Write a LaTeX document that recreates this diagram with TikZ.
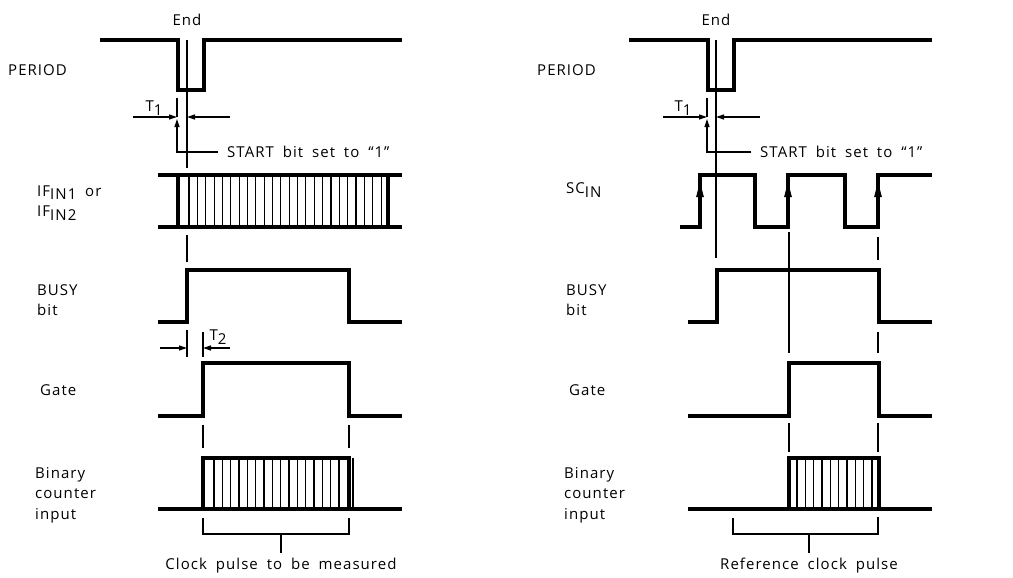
\documentclass[tikz,border=0pt]{standalone}
\usepackage{fontspec}
\setmainfont{Open Sans}[LetterSpace=7, WordSpace=1.8]
\usetikzlibrary{arrows.meta, positioning, calc}

\tikzset{
	every node/.style={
		align=left, inner sep=0pt, font=\fontsize{15}{20.5}\selectfont,
	},
	wave/.style={line width=4pt, line join=miter},
	guide/.style={line width=1.2pt},
	hatch/.style={line width=1.1pt},
	dimarrow/.style={guide, -{Triangle[length=8pt,width=5pt]}},
	edgearrow/.style={line width=1pt, -{Triangle[length=15pt,width=7.5pt]}},
	sig/.style={anchor=west},
}
\newcommand{\lowtxt}[1]{\raisebox{-3.5pt}{#1}}

\begin{document}
\begin{tikzpicture}[x=1pt, y=-1pt]
    \useasboundingbox (0,0) rectangle (1013,578);

    % ---- left: counter measures the clock pulse ----
    \node (perL) [sig] at (8,70) {PERIOD};
    \node (ifL) [sig] at (37,203) {IF\lowtxt{IN1} or\\IF\lowtxt{IN2}};
    \node (busyL) [sig] at (37,300) {BUSY\\bit};
    \node (gateL) [sig] at (40,390) {Gate};
    \node (binL) [sig] at (35,495) {Binary\\counter\\input};

    \draw [wave] (100,40) -- (178,40) -- (178,90) -- (204,90) -- (204,40) -- (402,40);
    \node (endL) at (187,20) {End};
    \draw [guide] (187,40) -- (187,168);

    \node (t1L) at (154,108) {T\lowtxt{1}};
    \draw [dimarrow] (133,117) -- (177,117);
    \draw [dimarrow] (230,117) -- (187,117);
    \draw [guide] (177,98) -- (177,117);
    \draw [dimarrow] (218,152) -- (177,152) -- (177,119);
    \node (startL) [anchor=west] at (227,152) {START bit set to ``1''};

    \draw [wave] (158,175) -- (402,175);
    \draw [wave] (158,227) -- (402,227);
    \draw [wave] (178,175) -- (178,227);
    \draw [wave] (388,175) -- (388,227);
    \foreach \i in {0,...,23}
        \draw [hatch] ({189+8.35*\i},175) -- ++(0,52);

    \draw [guide] (187,235) -- (187,262);
    \draw [wave] (158,322) -- (187,322) -- (187,270) -- (349,270) -- (349,322) -- (402,322);

    \node (t2L) at (218,337) {T\lowtxt{2}};
    \draw [guide] (187,330) -- (187,357);
    \draw [guide] (203,332) -- (203,357);
    \draw [dimarrow] (160,348) -- (187,348);
    \draw [dimarrow] (230,348) -- (203,348);

    \draw [wave] (158,416) -- (203,416) -- (203,363) -- (349,363) -- (349,416) -- (402,416);
    \draw [guide] (203,425) -- (203,448);
    \draw [guide] (349,425) -- (349,448);

    \draw [wave] (158,509) -- (402,509);
    \draw [wave] (203,509) -- (203,458) -- (349,458) -- (349,509);
    \foreach \i in {0,...,15}
        \draw [hatch] ({214+8.33*\i},458) -- ++(0,51);
    \draw [hatch] (353,458) -- (353,509);

    \draw [guide] (203,518) -- (203,534) -- (349,534) -- (349,518);
    \coordinate (brL) at (281,553);
    \draw [guide] (281,534) -- (brL);
    \node (cpmL) [below=5pt of brL] {Clock pulse to be measured};

    % ---- right: counter measures the reference clock ----
    \node (perR) [sig] at (537,70) {PERIOD};
    \node (scR) [sig] at (566,190) {SC\lowtxt{IN}};
    \node (busyR) [sig] at (566,300) {BUSY\\bit};
    \node (gateR) [sig] at (569,390) {Gate};
    \node (binR) [sig] at (564,495) {Binary\\counter\\input};

    \draw [wave] (629,40) -- (708,40) -- (708,90) -- (734,90) -- (734,40) -- (932,40);
    \node (endR) at (716,20) {End};
    \draw [guide] (716,40) -- (716,258);

    \node (t1R) at (683,108) {T\lowtxt{1}};
    \draw [dimarrow] (663,117) -- (707,117);
    \draw [dimarrow] (760,117) -- (716,117);
    \draw [guide] (707,98) -- (707,117);
    \draw [dimarrow] (751,152) -- (707,152) -- (707,119);
    \node (startR) [anchor=west] at (760,152) {START bit set to ``1''};

    \draw [wave] (680,227) -- (700,227) -- (700,175) -- (755,175) -- (755,227) -- (788,227)
        -- (788,175) -- (845,175) -- (845,227) -- (878,227) -- (878,175) -- (932,175);
    \foreach \x in {700,788,878}
        \draw [edgearrow] (\x,208) -- (\x,182);

    \draw [guide] (789,232) -- (789,353);
    \draw [guide] (878,237) -- (878,260);
    \draw [wave] (688,322) -- (717,322) -- (717,270) -- (879,270) -- (879,322) -- (932,322);
    \draw [guide] (878,332) -- (878,353);

    \draw [wave] (688,416) -- (789,416) -- (789,363) -- (879,363) -- (879,416) -- (932,416);
    \draw [guide] (789,423) -- (789,452);
    \draw [guide] (878,423) -- (878,452);

    \draw [wave] (688,509) -- (932,509);
    \draw [wave] (789,509) -- (789,458) -- (879,458) -- (879,509);
    \foreach \i in {0,...,9}
        \draw [hatch] ({797+8.33*\i},458) -- ++(0,51);

    \draw [guide] (733,518) -- (733,534) -- (878,534) -- (878,517);
    \coordinate (brR) at (809,553);
    \draw [guide] (809,534) -- (brR);
    \node (rcpR) [below=5pt of brR] {Reference clock pulse};
\end{tikzpicture}
\end{document}
